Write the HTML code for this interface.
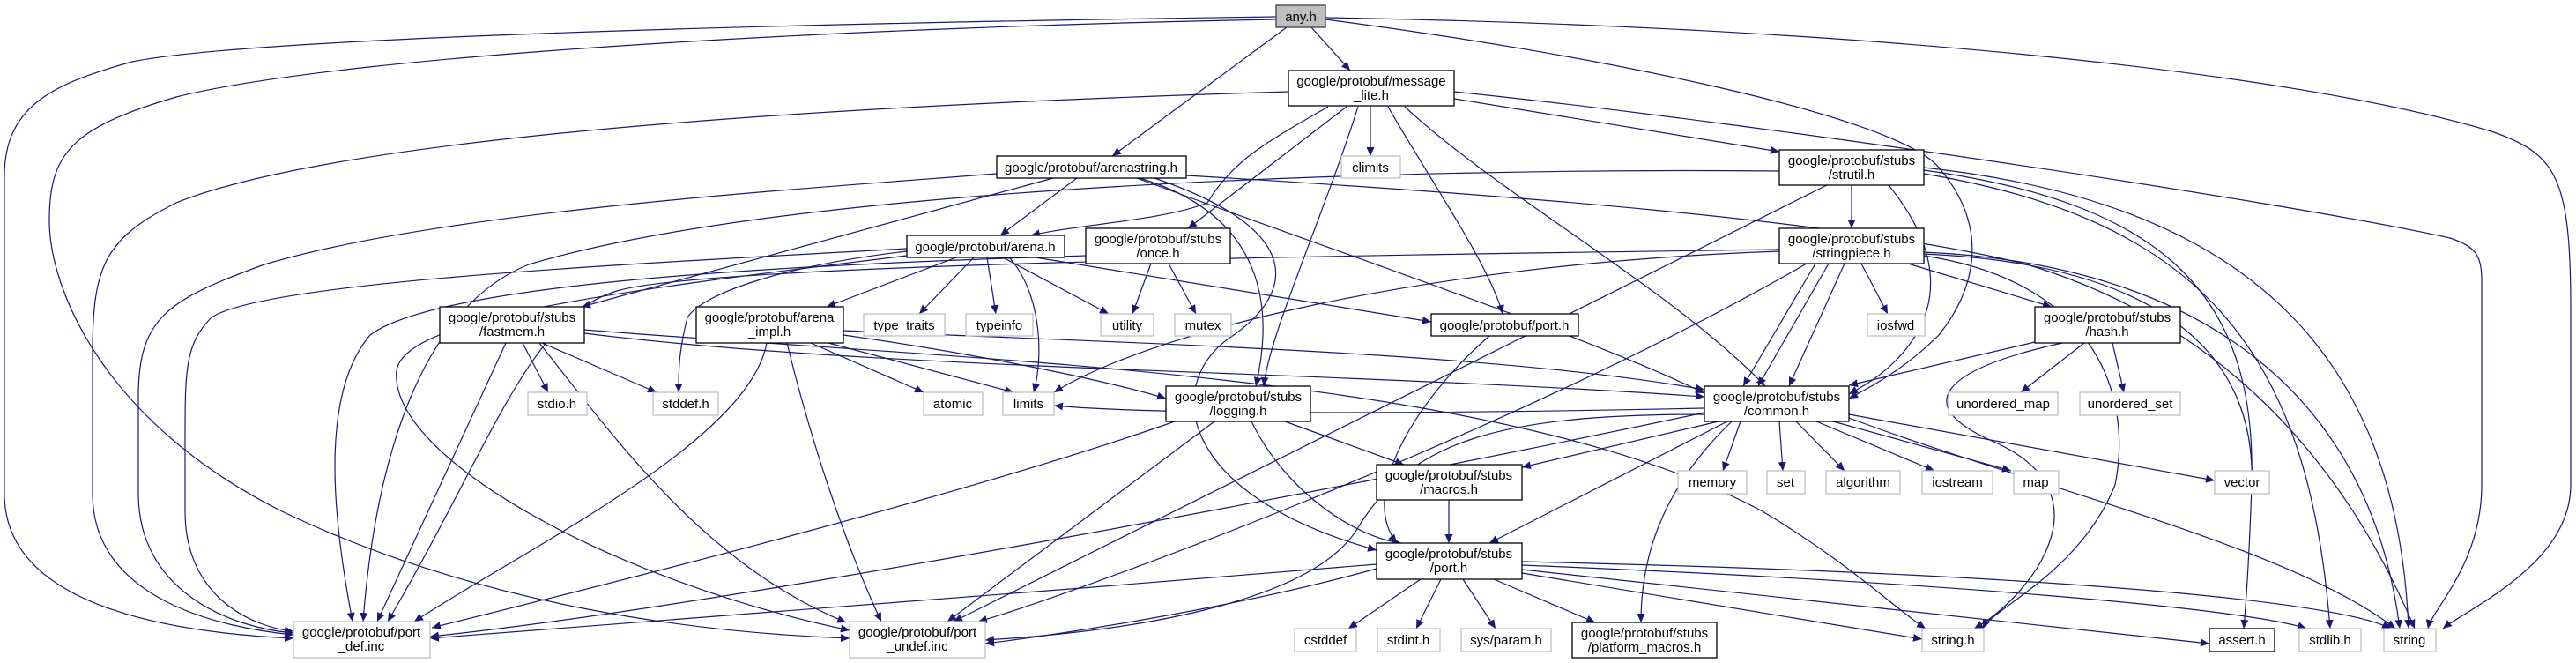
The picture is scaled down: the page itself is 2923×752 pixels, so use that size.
<!DOCTYPE html>
<html><head><meta charset="utf-8"><style>
html,body{margin:0;padding:0;background:#fff;}
svg{display:block;}
text{font-family:"Liberation Sans","DejaVu Sans",sans-serif;font-size:15px;fill:#000;text-anchor:middle;}
.e{fill:none;stroke:#191970;stroke-width:1.2;marker-end:url(#a);}
.n{fill:#fff;stroke:#000;stroke-width:1.3;}
.g{fill:#fff;stroke:#bfbfbf;stroke-width:1.3;}
</style></head><body>
<svg width="2923" height="752" viewBox="0 0 2923 752" xmlns="http://www.w3.org/2000/svg">
<defs><marker id="a" markerUnits="userSpaceOnUse" markerWidth="11" markerHeight="9" refX="10" refY="4.5" orient="auto"><path d="M0,0 L10,4.5 L0,9 z" fill="#191970"/></marker></defs>
<g>
<path class="e" d="M1448,19 C1000,25 300,40 150,70 C60,95 5,120 5,200 L5,560 C5,690 200,718 333,724"/>
<path class="e" d="M1448,22 C1000,30 400,60 200,110 C80,145 56,175 56,250 C56,330 120,480 320,580 C550,690 800,718 964,724"/>
<path class="e" d="M1460,31 L1262,177"/>
<path class="e" d="M1488,31 L1532,80"/>
<path class="e" d="M1504,20 C2100,30 2600,80 2830,150 C2900,175 2917,200 2917,350 L2917,550 C2917,640 2800,690 2772,713"/>
<path class="e" d="M1504,22 C1800,60 2150,130 2200,190 C2260,260 2240,330 2200,380 C2160,420 2120,440 2098,452"/>
<path class="e" d="M1462,104 C1000,118 400,150 200,230 C120,270 105,300 105,400 L105,560 C105,680 250,712 333,720"/>
<path class="e" d="M1507,121 C1440,160 1400,180 1370,230 C1320,250 1220,255 1170,267"/>
<path class="e" d="M1528,121 L1348,259"/>
<path class="e" d="M1541,121 C1500,250 1440,380 1434,438"/>
<path class="e" d="M1555,121 L1555,177"/>
<path class="e" d="M1575,121 C1620,200 1690,300 1705,356"/>
<path class="e" d="M1594,121 C1700,220 1900,330 2003,438"/>
<path class="e" d="M1650,112 L2019,172"/>
<path class="e" d="M1650,104 C2000,140 2600,230 2780,270 C2810,280 2816,290 2816,320 L2816,550 C2816,640 2760,690 2755,713"/>
<path class="e" d="M1131,197 C900,215 500,240 300,300 C190,340 157,360 157,450 L157,560 C157,670 260,712 333,718"/>
<path class="e" d="M1195,202 L660,348"/>
<path class="e" d="M1222,202 L1135,267"/>
<path class="e" d="M1293,202 C1420,240 1450,330 1425,438"/>
<path class="e" d="M1310,202 C1480,260 1470,330 1400,380 C1320,430 1330,560 1562,624"/>
<path class="e" d="M1290,202 C1500,280 1800,380 1934,446"/>
<path class="e" d="M1346,199 C1700,220 2100,250 2300,300 C2500,360 2650,500 2740,713"/>
<path class="e" d="M1029,282 C700,300 300,320 240,360 C210,390 210,420 210,500 L210,580 C210,680 290,712 333,716"/>
<path class="e" d="M1085,292 L938,348"/>
<path class="e" d="M1105,292 L1043,356"/>
<path class="e" d="M1120,292 L1130,356"/>
<path class="e" d="M1138,292 L1258,356"/>
<path class="e" d="M1145,292 C1180,330 1185,400 1173,445"/>
<path class="e" d="M1175,292 L1624,365"/>
<path class="e" d="M1029,285 C900,300 800,330 780,360 C770,400 770,420 770,445"/>
<path class="e" d="M1029,290 C700,330 460,360 450,420 C440,520 700,660 964,715"/>
<path class="e" d="M1306,299 L1285,356"/>
<path class="e" d="M1326,299 L1357,356"/>
<path class="e" d="M1232,290 C900,300 500,320 420,380 C360,450 380,600 400,705"/>
<path class="e" d="M593,389 L622,445"/>
<path class="e" d="M615,389 L745,445"/>
<path class="e" d="M574,389 L428,705"/>
<path class="e" d="M612,389 C700,500 800,640 960,706"/>
<path class="e" d="M663,378 C1000,420 1500,420 1934,450"/>
<path class="e" d="M663,374 C1100,410 1700,420 2000,580 C2100,640 2150,690 2185,713"/>
<path class="e" d="M920,389 L1048,445"/>
<path class="e" d="M940,389 L1150,445"/>
<path class="e" d="M957,380 C1100,400 1250,430 1323,452"/>
<path class="e" d="M870,389 C850,500 600,620 470,705"/>
<path class="e" d="M893,389 C920,500 960,620 1000,705"/>
<path class="e" d="M957,375 C1300,390 1700,400 1934,442"/>
<path class="e" d="M1333,478 C1100,560 700,660 490,712"/>
<path class="e" d="M1378,478 L1075,705"/>
<path class="e" d="M1420,478 C1460,560 1540,610 1590,616"/>
<path class="e" d="M1458,478 L1593,527"/>
<path class="e" d="M1690,381 C1610,450 1540,560 1585,616"/>
<path class="e" d="M1934,463 C1600,470 1300,470 1196,460"/>
<path class="e" d="M1934,468 C1500,560 800,690 488,722"/>
<path class="e" d="M1934,470 C1700,470 1600,500 1540,600 C1490,680 1300,715 1118,726"/>
<path class="e" d="M1950,478 L1727,530"/>
<path class="e" d="M1960,478 L1690,616"/>
<path class="e" d="M1965,478 C1880,560 1862,640 1862,706"/>
<path class="e" d="M1975,478 L1955,534"/>
<path class="e" d="M2019,478 L2023,534"/>
<path class="e" d="M2038,478 L2093,534"/>
<path class="e" d="M2061,478 L2195,534"/>
<path class="e" d="M2080,478 L2282,534"/>
<path class="e" d="M2098,470 L2513,545"/>
<path class="e" d="M2098,474 C2300,550 2600,620 2718,713"/>
<path class="e" d="M1644,567 L1644,616"/>
<path class="e" d="M1562,640 C1200,670 800,700 488,724"/>
<path class="e" d="M1562,645 C1400,690 1200,720 1118,730"/>
<path class="e" d="M1612,657 L1530,713"/>
<path class="e" d="M1635,657 L1607,713"/>
<path class="e" d="M1660,657 L1697,713"/>
<path class="e" d="M1695,657 L1810,706"/>
<path class="e" d="M1727,650 L2181,725"/>
<path class="e" d="M1727,646 L2507,730"/>
<path class="e" d="M1727,641 C2200,660 2550,690 2617,713"/>
<path class="e" d="M1727,637 C2300,650 2650,680 2713,713"/>
<path class="e" d="M2101,210 L2101,259"/>
<path class="e" d="M2073,210 L1082,705"/>
<path class="e" d="M2143,210 C2200,280 2210,350 2150,410 C2130,430 2110,440 2098,447"/>
<path class="e" d="M2183,193 C2450,230 2560,330 2555,545"/>
<path class="e" d="M2183,197 C2500,250 2620,400 2644,713"/>
<path class="e" d="M2183,190 C2550,230 2720,400 2733,713"/>
<path class="e" d="M2019,194 C1600,190 900,210 600,300 C450,360 420,600 412,705"/>
<path class="e" d="M2019,285 C1600,300 1300,380 1196,445"/>
<path class="e" d="M2019,283 C1500,290 800,300 700,330 C600,360 560,500 440,705"/>
<path class="e" d="M2050,299 C1700,500 1200,680 1110,705"/>
<path class="e" d="M2060,299 L1978,438"/>
<path class="e" d="M2075,299 L1995,438"/>
<path class="e" d="M2093,299 L2030,438"/>
<path class="e" d="M2112,299 L2142,356"/>
<path class="e" d="M2165,299 L2328,348"/>
<path class="e" d="M2183,290 C2380,320 2420,450 2400,550 C2360,650 2260,690 2250,713"/>
<path class="e" d="M2183,288 C2450,300 2560,400 2555,550 C2552,640 2548,690 2546,713"/>
<path class="e" d="M2183,286 C2500,300 2690,450 2723,713"/>
<path class="e" d="M2309,388 L2098,437"/>
<path class="e" d="M2365,389 L2293,445"/>
<path class="e" d="M2397,389 L2410,445"/>
<path class="e" d="M2340,389 C2200,420 2170,460 2260,500 C2400,560 2300,680 2240,713"/>
</g>
<g>
<rect x="1448" y="6" width="56" height="25" fill="#bfbfbf" stroke="#404040" stroke-width="1.3"/><text x="1476" y="24">any.h</text>
<rect class="n" x="1462" y="80" width="188" height="40"/><text x="1556" y="97">google/protobuf/message</text><text x="1556" y="113">_lite.h</text>
<rect class="n" x="1131" y="177" width="215" height="25"/><text x="1238" y="195">google/protobuf/arenastring.h</text>
<rect class="g" x="1522" y="177" width="67" height="25"/><text x="1555" y="195">climits</text>
<rect class="n" x="2019" y="170" width="164" height="40"/><text x="2101" y="187">google/protobuf/stubs</text><text x="2101" y="203">/strutil.h</text>
<rect class="n" x="1029" y="267" width="179" height="25"/><text x="1118" y="285">google/protobuf/arena.h</text>
<rect class="n" x="1232" y="259" width="164" height="40"/><text x="1314" y="276">google/protobuf/stubs</text><text x="1314" y="292">/once.h</text>
<rect class="n" x="2019" y="259" width="164" height="40"/><text x="2101" y="276">google/protobuf/stubs</text><text x="2101" y="292">/stringpiece.h</text>
<rect class="n" x="499" y="348" width="164" height="41"/><text x="581" y="365">google/protobuf/stubs</text><text x="581" y="381">/fastmem.h</text>
<rect class="n" x="790" y="348" width="167" height="41"/><text x="873" y="365">google/protobuf/arena</text><text x="873" y="381">_impl.h</text>
<rect class="g" x="980" y="356" width="92" height="25"/><text x="1026" y="374">type_traits</text>
<rect class="g" x="1096" y="356" width="76" height="25"/><text x="1134" y="374">typeinfo</text>
<rect class="g" x="1249" y="356" width="60" height="25"/><text x="1279" y="374">utility</text>
<rect class="g" x="1333" y="356" width="64" height="25"/><text x="1365" y="374">mutex</text>
<rect class="n" x="1624" y="356" width="167" height="25"/><text x="1707" y="374">google/protobuf/port.h</text>
<rect class="g" x="2119" y="356" width="65" height="25"/><text x="2151" y="374">iosfwd</text>
<rect class="n" x="2309" y="348" width="165" height="41"/><text x="2391" y="365">google/protobuf/stubs</text><text x="2391" y="381">/hash.h</text>
<rect class="g" x="599" y="445" width="67" height="26"/><text x="632" y="463">stdio.h</text>
<rect class="g" x="741" y="445" width="74" height="26"/><text x="778" y="463">stddef.h</text>
<rect class="g" x="1048" y="445" width="67" height="26"/><text x="1081" y="463">atomic</text>
<rect class="g" x="1138" y="445" width="58" height="26"/><text x="1167" y="463">limits</text>
<rect class="n" x="1323" y="438" width="164" height="40"/><text x="1405" y="455">google/protobuf/stubs</text><text x="1405" y="471">/logging.h</text>
<rect class="n" x="1934" y="438" width="164" height="40"/><text x="2016" y="455">google/protobuf/stubs</text><text x="2016" y="471">/common.h</text>
<rect class="g" x="2211" y="445" width="124" height="26"/><text x="2273" y="463">unordered_map</text>
<rect class="g" x="2360" y="445" width="114" height="26"/><text x="2417" y="463">unordered_set</text>
<rect class="n" x="1562" y="527" width="165" height="40"/><text x="1644" y="544">google/protobuf/stubs</text><text x="1644" y="560">/macros.h</text>
<rect class="g" x="1904" y="534" width="78" height="26"/><text x="1943" y="552">memory</text>
<rect class="g" x="2005" y="534" width="43" height="26"/><text x="2026" y="552">set</text>
<rect class="g" x="2072" y="534" width="84" height="26"/><text x="2114" y="552">algorithm</text>
<rect class="g" x="2181" y="534" width="80" height="26"/><text x="2221" y="552">iostream</text>
<rect class="g" x="2285" y="534" width="51" height="26"/><text x="2310" y="552">map</text>
<rect class="g" x="2513" y="534" width="62" height="26"/><text x="2544" y="552">vector</text>
<rect class="n" x="1562" y="616" width="165" height="41"/><text x="1644" y="633">google/protobuf/stubs</text><text x="1644" y="649">/port.h</text>
<rect class="g" x="333" y="705" width="155" height="41"/><text x="410" y="722">google/protobuf/port</text><text x="410" y="738">_def.inc</text>
<rect class="g" x="964" y="705" width="154" height="41"/><text x="1041" y="722">google/protobuf/port</text><text x="1041" y="738">_undef.inc</text>
<rect class="g" x="1469" y="713" width="70" height="26"/><text x="1504" y="731">cstddef</text>
<rect class="g" x="1563" y="713" width="71" height="26"/><text x="1598" y="731">stdint.h</text>
<rect class="g" x="1658" y="713" width="102" height="26"/><text x="1709" y="731">sys/param.h</text>
<rect class="n" x="1784" y="706" width="164" height="40"/><text x="1866" y="723">google/protobuf/stubs</text><text x="1866" y="739">/platform_macros.h</text>
<rect class="g" x="2181" y="713" width="70" height="26"/><text x="2216" y="731">string.h</text>
<rect class="n" x="2507" y="713" width="74" height="26"/><text x="2544" y="731">assert.h</text>
<rect class="g" x="2609" y="713" width="70" height="26"/><text x="2644" y="731">stdlib.h</text>
<rect class="g" x="2705" y="713" width="59" height="26"/><text x="2734" y="731">string</text>
</g>
</svg>
</body></html>
